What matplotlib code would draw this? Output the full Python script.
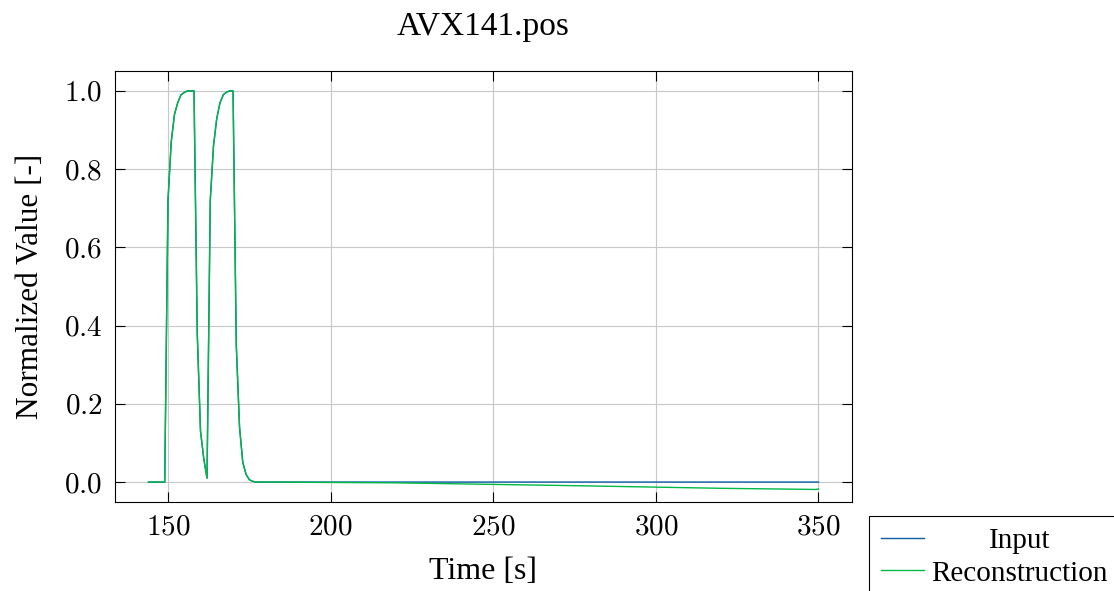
import matplotlib
matplotlib.use("Agg")
import matplotlib.pyplot as plt
from matplotlib.ticker import FuncFormatter

# values
time = [144, 149, 150, 151, 152, 153, 154, 155, 156, 157, 158, 159, 160, 161, 162,
        163, 164, 165, 166, 167, 168, 169, 170, 171, 172, 173, 174, 175, 176, 177,
        180, 200, 220, 250, 280, 300, 320, 340, 349, 350]
input_val = [0.0, 0.0, 0.72, 0.87, 0.94, 0.97, 0.99, 0.996, 1.0, 1.0, 1.0, 0.38, 0.13, 0.06, 0.01,
             0.72, 0.86, 0.93, 0.97, 0.99, 0.997, 1.0, 1.0, 0.35, 0.14, 0.05, 0.02, 0.006, 0.002, 0.0,
             0.0, 0.0, 0.0, 0.0, 0.0, 0.0, 0.0, 0.0, 0.0, 0.0]
recon_val = [0.0, 0.0, 0.72, 0.87, 0.94, 0.97, 0.99, 0.996, 1.0, 1.0, 1.0, 0.38, 0.13, 0.06, 0.01,
             0.72, 0.86, 0.93, 0.97, 0.99, 0.997, 1.0, 1.0, 0.35, 0.14, 0.05, 0.02, 0.006, 0.002, 0.0,
             0.0, -0.001, -0.002, -0.006, -0.010, -0.013, -0.016, -0.018, -0.019, -0.018]

plt.rcParams["font.family"] = ["Liberation Serif", "DejaVu Serif"]
plt.rcParams["mathtext.fontset"] = "cm"
plt.rcParams["font.size"] = 21
plt.rcParams["xtick.direction"] = "in"
plt.rcParams["ytick.direction"] = "in"
plt.rcParams["xtick.top"] = True
plt.rcParams["ytick.right"] = True

fig = plt.figure(figsize=(11.14, 5.91), dpi=100)
ax = fig.add_axes([0.1032, 0.1506, 0.6616, 0.7293])

ax.plot(time, input_val, color="#0C5DA5", lw=1.0, label="Input")
ax.plot(time, recon_val, color="#00B945", lw=1.0, label="Reconstruction")

ax.set_ylim(-0.051, 1.051)
ax.set_xticks([150, 200, 250, 300, 350])
ax.set_yticks([0.0, 0.2, 0.4, 0.6, 0.8, 1.0])
ax.xaxis.set_major_formatter(FuncFormatter(lambda v, p: f"${v:.0f}$"))
ax.yaxis.set_major_formatter(FuncFormatter(lambda v, p: f"${v:.1f}$"))
ax.tick_params(which="major", length=7, width=0.8, pad=9)
ax.grid(True, color="#c8c8c8", lw=0.8)
for s in ax.spines.values():
    s.set_linewidth(0.8)

ax.set_xlabel("Time [s]", fontsize=23, labelpad=12)
ax.set_ylabel("Normalized Value [-]", fontsize=22.5, labelpad=14)
ax.set_title("AVX141.pos", fontsize=24, pad=26)

leg = ax.legend(loc="upper left", bbox_to_anchor=(1.023, -0.032), borderaxespad=0,
                fancybox=False, edgecolor="black", framealpha=1,
                handlelength=1.5, handletextpad=0.25, labelspacing=0.22)
leg.get_frame().set_linewidth(0.8)

# centre the legend labels in their column
fig.canvas.draw()
r = fig.canvas.get_renderer()
texts = leg.get_texts()
widths = [t.get_window_extent(r).width for t in texts]
for t, w in zip(texts, widths):
    t.set_position(((max(widths) - w) / 2, 0))

fig.savefig("out.png", dpi=100)
